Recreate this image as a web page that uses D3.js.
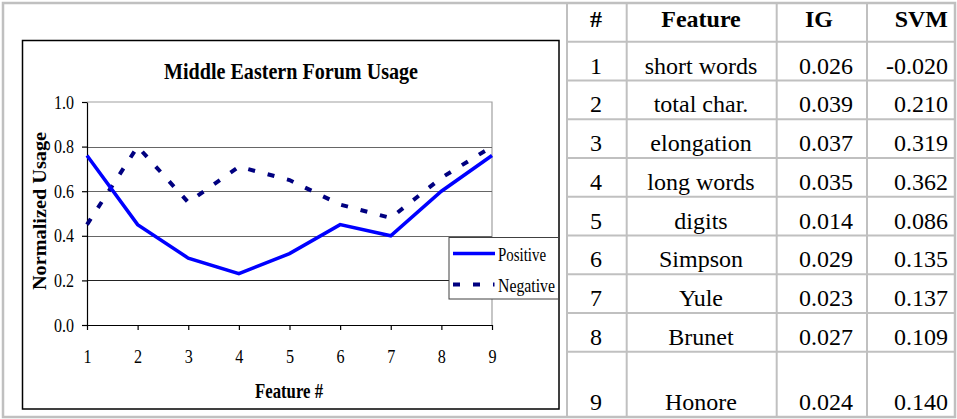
<!DOCTYPE html>
<html><head><meta charset="utf-8">
<script src="https://cdn.jsdelivr.net/npm/d3@7"></script>
<style>
html,body{margin:0;padding:0;background:#fff;}
svg{display:block;}
text{font-family:"Liberation Serif","Times New Roman",serif;fill:#000;}
</style></head>
<body><svg id="c" width="957" height="419"></svg>
<script>
// ---- data ----
const featureIds = [1,2,3,4,5,6,7,8,9];
const positive = [0.76,0.45,0.30,0.23,0.32,0.45,0.40,0.60,0.76];
const negative = [0.45,0.80,0.55,0.71,0.65,0.54,0.48,0.66,0.80];
const yTicks = [0.0,0.2,0.4,0.6,0.8,1.0];
const seriesNames = ["Positive","Negative"];
const tableHeaders = ["#","Feature","IG","SVM"];
const featureNames = ["short words","total char.","elongation","long words","digits","Simpson","Yule","Brunet","Honore"];
const igValues = [0.026,0.039,0.037,0.035,0.014,0.029,0.023,0.027,0.024];
const svmValues = [-0.020,0.210,0.319,0.362,0.086,0.135,0.137,0.109,0.140];

const svg = d3.select("#c");
const loc = d3.formatLocale({decimal:".",thousands:",",grouping:[3],currency:["",""],minus:"-"});
const f3 = loc.format(".3f"), f1 = loc.format(".1f");
const gray = "#c0c0c0";

function squeeze(sel, factor){
  sel.each(function(){ const w=this.getComputedTextLength(); d3.select(this).attr("textLength",w*factor).attr("lengthAdjust","spacingAndGlyphs"); });
}
function fitW(sel, w){ sel.attr("textLength",w).attr("lengthAdjust","spacingAndGlyphs"); }

// ---- outer frame ----
svg.append("rect").attr("x",3).attr("y",3).attr("width",952).attr("height",414)
  .attr("fill","none").attr("stroke",gray).attr("stroke-width",2.5);
svg.append("line").attr("x1",567).attr("x2",567).attr("y1",3).attr("y2",417).attr("stroke",gray).attr("stroke-width",2);

// ---- chart ----
svg.append("rect").attr("x",22.5).attr("y",40.5).attr("width",536.5).attr("height",368.5)
  .attr("fill","#fff").attr("stroke","#000").attr("stroke-width",1.5);

const x = d3.scaleLinear().domain([1,9]).range([87,492]);
const y = d3.scaleLinear().domain([0,1]).range([325,102]);

// plot border top/right
svg.append("path").attr("d",`M${x(1)},${y(1)}H${x(9)}V${y(0)}`).attr("fill","none").attr("stroke","#a0a0a0").attr("stroke-width",1.2);
// gridlines
svg.append("g").selectAll("line").data(yTicks.filter(v=>v>0&&v<1)).join("line")
  .attr("x1",x(1)).attr("x2",x(9)).attr("y1",d=>Math.round(y(d))+0.5).attr("y2",d=>Math.round(y(d))+0.5)
  .attr("stroke",d=>d<0.3?"#222":"#666").attr("stroke-width",1);

const yAxis = svg.append("g").attr("transform",`translate(${x(1)},0)`)
  .call(d3.axisLeft(y).tickValues(yTicks).tickFormat(f1).tickSize(5).tickSizeOuter(0).tickPadding(8));
const xAxis = svg.append("g").attr("transform",`translate(0,${y(0)})`)
  .call(d3.axisBottom(x).tickValues(featureIds).tickFormat(d3.format("d")).tickSize(5).tickSizeOuter(0).tickPadding(20));
[yAxis,xAxis].forEach(a=>{
  a.select(".domain").attr("stroke","#000").attr("stroke-width",1.2);
  a.selectAll(".tick line").attr("stroke","#000").attr("stroke-width",1.2);
  a.selectAll("text").attr("font-size",19).attr("font-family",'"Liberation Serif","Times New Roman",serif').attr("fill","#000");
});
yAxis.selectAll("text").call(fitW,20);
xAxis.selectAll("text").call(squeeze,0.85);

const line = d3.line().x((d,i)=>x(featureIds[i])).y(d=>y(d));
svg.append("path").datum(negative).attr("d",line).attr("fill","none")
  .attr("stroke","#000080").attr("stroke-width",4).attr("stroke-dasharray","7,13");
svg.append("path").datum(positive).attr("d",line).attr("fill","none")
  .attr("stroke","#0000ff").attr("stroke-width",3.5).attr("stroke-linejoin","miter");

// title & axis titles
svg.append("text").attr("x",164).attr("y",79).attr("font-size",23).attr("font-weight","bold")
  .text("Middle Eastern Forum Usage").call(fitW,254);
svg.append("text").attr("transform","translate(45.5,211) rotate(-90)").attr("text-anchor","middle")
  .attr("font-size",19).attr("font-weight","bold").text("Normalized Usage").call(fitW,158);
svg.append("text").attr("x",255).attr("y",398).attr("font-size",21).attr("font-weight","bold")
  .text("Feature #").call(fitW,68);

// legend
const lg = svg.append("g");
lg.append("rect").attr("x",449).attr("y",237.5).attr("width",109.5).attr("height",61.5)
  .attr("fill","#fff").attr("stroke","#404040").attr("stroke-width",1);
lg.append("line").attr("x1",453).attr("x2",495).attr("y1",253.5).attr("y2",253.5).attr("stroke","#0000ff").attr("stroke-width",3.5);
lg.append("line").attr("x1",453).attr("x2",494.5).attr("y1",284.5).attr("y2",284.5).attr("stroke","#000080").attr("stroke-width",4).attr("stroke-dasharray","7,13");
lg.append("text").attr("x",498).attr("y",260.7).attr("font-size",19).text(seriesNames[0]).call(fitW,48);
lg.append("text").attr("x",498).attr("y",291.7).attr("font-size",19).text(seriesNames[1]).call(fitW,57);

// ---- table ----
const colLines = [567,626.7,776.7,867,955];
const rowLines = [3,41.7,80.4,119.2,158,196.7,235.5,274.2,313,351.7,417];
const tg = svg.append("g");
tg.selectAll("line.h").data(rowLines.slice(1,-1)).join("line").attr("class","h")
  .attr("x1",567).attr("x2",955).attr("y1",d=>d).attr("y2",d=>d).attr("stroke",gray).attr("stroke-width",2);
tg.selectAll("line.v").data(colLines.slice(1,-1)).join("line").attr("class","v")
  .attr("x1",d=>d).attr("x2",d=>d).attr("y1",3).attr("y2",417).attr("stroke",gray).attr("stroke-width",2);

const hdrPos = [{x:596,a:"middle"},{x:701,a:"middle"},{x:819,a:"middle"},{x:948,a:"end"}];
tg.selectAll("text.hd").data(tableHeaders).join("text").attr("class","hd")
  .attr("x",(d,i)=>hdrPos[i].x).attr("text-anchor",(d,i)=>hdrPos[i].a).attr("y",26.5)
  .attr("font-size",24).attr("font-weight","bold").text(d=>d);

const rows = featureIds.map((id,i)=>({id,name:featureNames[i],ig:igValues[i],svm:svmValues[i],base:rowLines[i+2]-6.8}));
const rg = tg.selectAll("g.r").data(rows).join("g").attr("class","r");
rg.append("text").attr("x",596).attr("y",d=>d.base).attr("text-anchor","middle").attr("font-size",24).text(d=>d.id);
rg.append("text").attr("x",701).attr("y",d=>d.base).attr("text-anchor","middle").attr("font-size",24).text(d=>d.name);
rg.append("text").attr("x",853).attr("y",d=>d.base).attr("text-anchor","end").attr("font-size",24).text(d=>f3(d.ig));
rg.append("text").attr("x",948).attr("y",d=>d.base).attr("text-anchor","end").attr("font-size",24).text(d=>f3(d.svm));
</script></body></html>
